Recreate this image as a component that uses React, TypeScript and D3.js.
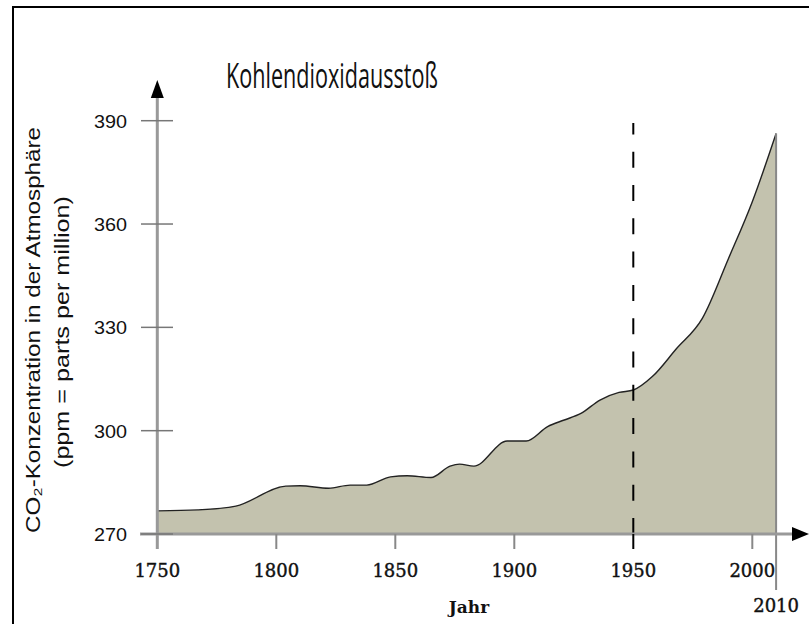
import React from "react";
import * as d3 from "d3";

const years = [1750, 1767, 1783, 1804, 1810, 1822, 1831, 1838, 1848, 1855, 1865, 1873, 1877, 1883, 1897, 1905, 1914, 1921, 1928, 1936, 1944, 1950, 1958, 1968, 1979, 1990, 2000, 2010];
const ppm = [276.7, 277, 278.1, 283.9, 284, 283.3, 284.2, 284.2, 286.6, 286.9, 286.4, 289.7, 290.3, 289.7, 297, 297, 301.2, 303.1, 305, 308.9, 311.1, 311.8, 315.7, 323.7, 332.6, 350, 366.5, 386.3];
const xTicks = [1750, 1800, 1850, 1900, 1950, 2000];
const yTicks = [270, 300, 330, 360, 390];
const endYear = 2010;
const markYear = 1950;
const title = "Kohlendioxidausstoß";
const yLabel1 = "CO₂-Konzentration in der Atmosphäre";
const yLabel2 = "(ppm = parts per million)";
const xLabel = "Jahr";

export default function App() {
  const x = d3.scaleLinear().domain([1750, 2000]).range([157.3, 752.3]);
  const y = d3.scaleLinear().domain([270, 390]).range([534, 120.7]);
  const data = years.map((yr, i) => ({ yr, v: ppm[i] }));
  const area = d3
    .area<{ yr: number; v: number }>()
    .x((d) => x(d.yr))
    .y0(y(270))
    .y1((d) => y(d.v))
    .curve(d3.curveMonotoneX);
  const line = d3
    .line<{ yr: number; v: number }>()
    .x((d) => x(d.yr))
    .y((d) => y(d.v))
    .curve(d3.curveMonotoneX);
  const x0 = x(1750);
  const xEnd = x(endYear);
  const yBase = y(270);
  const serif = "'DejaVu Serif', serif";
  const sans = "'Liberation Sans', Arial, sans-serif";
  return (
    <svg
      width={809}
      height={624}
      style={{ position: "absolute", left: 0, top: 0, background: "#fff" }}
    >
      <rect x={13} y={7} width={830} height={700} fill="none" stroke="#000" strokeWidth={2} />
      <text
        x={332}
        y={88}
        textAnchor="middle"
        fontFamily="'Open Sans', sans-serif"
        fontSize={35}
        textLength={212}
        lengthAdjust="spacingAndGlyphs"
        fill="#111"
      >
        {title}
      </text>
      <path d={area(data) || ""} fill="#c3c2ae" />
      <path d={line(data) || ""} fill="none" stroke="#222" strokeWidth={1.4} />
      {/* end line 2010 */}
      <line x1={xEnd} x2={xEnd} y1={y(ppm[ppm.length - 1])} y2={590} stroke="#888" strokeWidth={2} />
      {/* dashed 1950 */}
      <line
        x1={x(markYear)}
        x2={x(markYear)}
        y1={yBase}
        y2={123}
        stroke="#000"
        strokeWidth={2}
        strokeDasharray="16 17.3"
      />
      {/* y axis */}
      <line x1={x0} x2={x0} y1={549} y2={97} stroke="#999" strokeWidth={3} />
      <path d={`M${x0},80 L${x0 - 6.5},98 L${x0 + 6.5},98 Z`} fill="#000" />
      {/* x axis */}
      <line x1={140} x2={793} y1={yBase} y2={yBase} stroke="#999" strokeWidth={3} />
      <path d={`M809,${yBase} L792,${yBase - 7} L792,${yBase + 7} Z`} fill="#000" />
      {yTicks.map((t) => (
        <g key={t}>
          <line x1={141} x2={173} y1={y(t)} y2={y(t)} stroke="#777" strokeWidth={1.5} />
          <text
            x={127}
            y={y(t) + 7}
            textAnchor="end"
            fontFamily={sans}
            fontSize={19}
            textLength={33}
            lengthAdjust="spacingAndGlyphs"
            fill="#111"
          >
            {t}
          </text>
        </g>
      ))}
      {xTicks.map((t) => (
        <g key={t}>
          {t !== 1750 && (
            <line
              x1={x(t)}
              x2={x(t)}
              y1={yBase}
              y2={549}
              stroke={t === markYear ? "#000" : "#888"}
              strokeWidth={2}
            />
          )}
          <text
            x={x(t)}
            y={577}
            textAnchor="middle"
            fontFamily={serif}
            fontSize={18}
            stroke="#111"
            strokeWidth={0.4}
            fill="#111"
          >
            {t}
          </text>
        </g>
      ))}
      <text x={xEnd} y={612} textAnchor="middle" fontFamily={serif} fontSize={18} stroke="#111" strokeWidth={0.4} fill="#111">
        {endYear}
      </text>
      <text x={469} y={613} textAnchor="middle" fontFamily={serif} fontSize={17} fontWeight="bold" fill="#111">
        {xLabel}
      </text>
      <text
        transform="translate(40,330) rotate(-90)"
        textAnchor="middle"
        fontFamily={sans}
        fontSize={20}
        textLength={406}
        lengthAdjust="spacingAndGlyphs"
        fill="#111"
      >
        {yLabel1}
      </text>
      <text
        transform="translate(69,332) rotate(-90)"
        textAnchor="middle"
        fontFamily={sans}
        fontSize={20}
        textLength={272}
        lengthAdjust="spacingAndGlyphs"
        fill="#111"
      >
        {yLabel2}
      </text>
    </svg>
  );
}
